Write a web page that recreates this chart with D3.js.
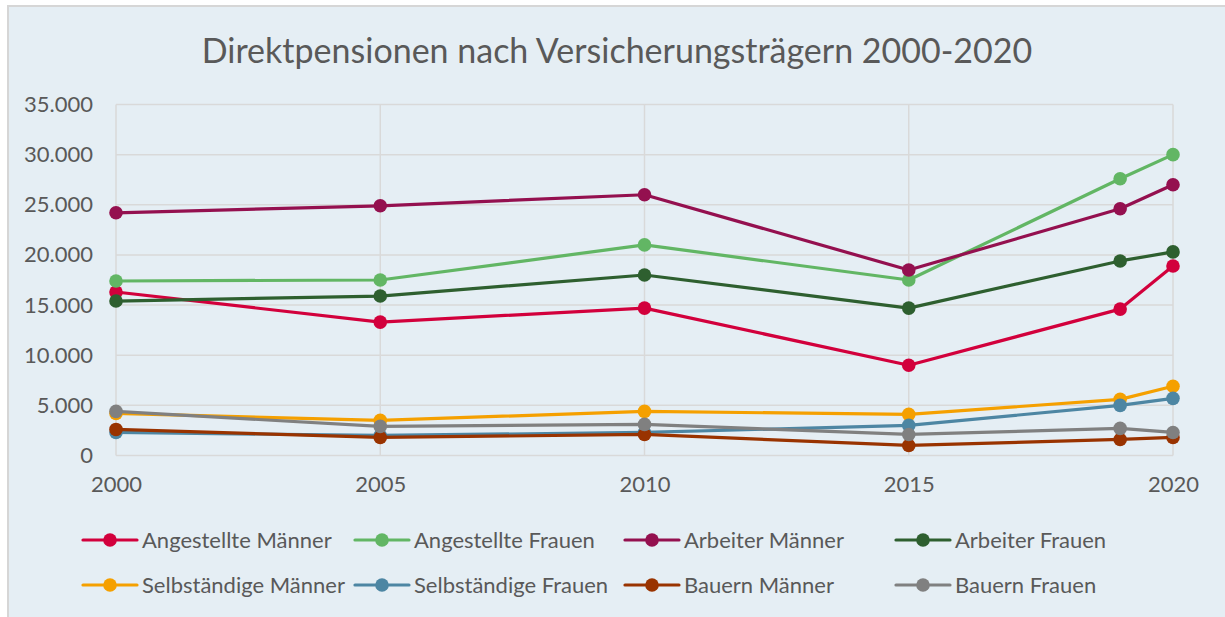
<!DOCTYPE html>
<html>
<head>
<meta charset="utf-8">
<script src="https://cdn.jsdelivr.net/npm/d3@7"></script>
<style>
  body { margin: 0; background: #fff; }
  svg { display: block; font-family: Lato, sans-serif; }
</style>
</head>
<body>
<div id="chart"></div>
<script>
// Jahre (x) und Werte je Reihe
const years = [2000, 2005, 2010, 2015, 2019, 2020];
const xTicks = [2000, 2005, 2010, 2015, 2020];
const yTicks = [0, 5000, 10000, 15000, 20000, 25000, 30000, 35000];

const angestellteMaenner = [16300, 13300, 14700, 9000, 14600, 18900];
const angestellteFrauen = [17400, 17500, 21000, 17500, 27600, 30000];
const arbeiterMaenner = [24200, 24900, 26000, 18500, 24600, 27000];
const arbeiterFrauen = [15400, 15900, 18000, 14700, 19400, 20300];
const selbstMaenner = [4200, 3500, 4400, 4100, 5600, 6900];
const selbstFrauen = [2300, 2000, 2300, 3000, 5000, 5700];
const bauernMaenner = [2600, 1800, 2100, 1000, 1600, 1800];
const bauernFrauen = [4400, 2900, 3100, 2100, 2700, 2300];

const seriesNames = ["Angestellte Männer", "Angestellte Frauen", "Arbeiter Männer", "Arbeiter Frauen",
  "Selbständige Männer", "Selbständige Frauen", "Bauern Männer", "Bauern Frauen"];
const seriesValues = [angestellteMaenner, angestellteFrauen, arbeiterMaenner, arbeiterFrauen,
  selbstMaenner, selbstFrauen, bauernMaenner, bauernFrauen];
const colors = ["#D2003C", "#62B664", "#94104F", "#2E5F2F", "#F5A000", "#4D86A3", "#993300", "#808080"];

const width = 1225, height = 617;
const svg = d3.select("#chart").append("svg")
  .attr("width", width)
  .attr("height", height);

// Hintergrund mit Rahmen
svg.append("rect").attr("x", 8).attr("y", 6).attr("width", width - 8).attr("height", height - 6)
  .attr("fill", "#E5EEF4");
svg.append("line").attr("x1", 8).attr("x2", 8).attr("y1", 5).attr("y2", height).attr("stroke", "#D6D6D6").attr("stroke-width", 2);
svg.append("line").attr("x1", 8).attr("x2", width).attr("y1", 6).attr("y2", 6).attr("stroke", "#D6D6D6").attr("stroke-width", 2);

const x = d3.scaleLinear().domain([2000, 2020]).range([116, 1173]);
const y = d3.scaleLinear().domain([0, 35000]).range([455.5, 104.5]);

// Titel
svg.append("text")
  .attr("x", 617).attr("y", 63)
  .attr("text-anchor", "middle")
  .attr("fill", "#595959")
  .style("font-size", "34px")
  .text("Direktpensionen nach Versicherungsträgern 2000-2020");

// Gitter
svg.append("g").selectAll("line").data(yTicks).join("line")
  .attr("x1", x(2000)).attr("x2", x(2020))
  .attr("y1", d => y(d)).attr("y2", d => y(d))
  .attr("stroke", "#D9D9D9").attr("stroke-width", 1.5);
svg.append("g").selectAll("line").data(xTicks).join("line")
  .attr("x1", d => x(d)).attr("x2", d => x(d))
  .attr("y1", y(0)).attr("y2", y(35000))
  .attr("stroke", "#D9D9D9").attr("stroke-width", 1.5);

// Achsen
const fmt = d3.formatLocale({ decimal: ",", thousands: ".", grouping: [3], currency: ["", "€"] }).format(",d");
const yAxis = svg.append("g")
  .attr("transform", `translate(${x(2000)},0)`)
  .call(d3.axisLeft(y).tickValues(yTicks).tickFormat(fmt).tickSize(0).tickPadding(23));
const xAxis = svg.append("g")
  .attr("transform", `translate(0,${y(0)})`)
  .call(d3.axisBottom(x).tickValues(xTicks).tickFormat(d3.format("d")).tickSize(0).tickPadding(21));
[yAxis, xAxis].forEach(a => {
  a.select(".domain").remove();
  a.selectAll("text").attr("fill", "#595959").style("font-size", "22px").style("font-family", "Lato, sans-serif");
});

// Linien und Punkte
const line = d3.line().x((d, i) => x(years[i])).y(d => y(d));
seriesValues.forEach((vals, s) => {
  const g = svg.append("g");
  g.append("path")
    .datum(vals)
    .attr("d", line)
    .attr("fill", "none")
    .attr("stroke", colors[s])
    .attr("stroke-width", 3.2)
    .attr("stroke-linejoin", "round");
  g.selectAll("circle").data(vals).join("circle")
    .attr("cx", (d, i) => x(years[i]))
    .attr("cy", d => y(d))
    .attr("r", 6.8)
    .attr("fill", colors[s]);
});

// Legende
const legendCols = [83, 355, 625, 896];
const legendRows = [540, 585];
const legend = svg.append("g");
seriesNames.forEach((name, i) => {
  const lx = legendCols[i % 4], ly = legendRows[Math.floor(i / 4)];
  const item = legend.append("g").attr("transform", `translate(${lx},${ly})`);
  item.append("line").attr("x1", 0).attr("x2", 54).attr("y1", 0).attr("y2", 0)
    .attr("stroke", colors[i]).attr("stroke-width", 3.2).attr("stroke-linecap", "round");
  item.append("circle").attr("cx", 27).attr("cy", 0).attr("r", 6.8).attr("fill", colors[i]);
  item.append("text").attr("x", 59).attr("y", 0).attr("dy", "0.35em")
    .attr("fill", "#595959").style("font-size", "22px").text(name);
});
</script>
</body>
</html>
